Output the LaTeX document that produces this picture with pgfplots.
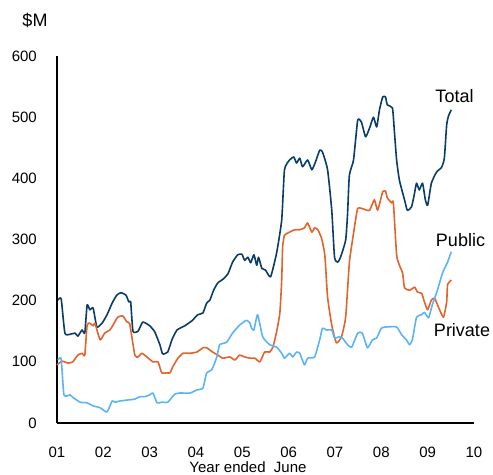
\documentclass[border=0pt]{standalone}
\usepackage{pgfplots}
\pgfplotsset{compat=1.18}
\usepackage{fontspec}
\setmainfont{Liberation Sans}

\definecolor{totalc}{RGB}{10,60,105}
\definecolor{privc}{RGB}{226,100,45}
\definecolor{pubc}{RGB}{90,180,245}

\begin{document}
\begin{tikzpicture}
\begin{axis}[
    at={(0,0)}, anchor=south west,
    scale only axis,
    width=417bp, height=367bp,
    xmin=1, xmax=10, ymin=0, ymax=600,
    axis x line*=bottom, axis y line*=left,
    axis line style={black, line width=2bp},
    xtick={1,...,10},
    xticklabels={01,02,03,04,05,06,07,08,09,10},
    ytick={0,100,...,600},
    major tick length=0pt,
    tick label style={font=\fontsize{15bp}{17bp}\selectfont, /pgf/number format/assume math mode=true},
    xticklabel style={anchor=north, inner sep=0pt, yshift=-24bp},
    yticklabel style={anchor=east, inner sep=0pt, xshift=-20bp},
    every axis plot/.append style={line width=1.6bp, line join=round, no markers, smooth, tension=0.3},
    clip=false,
]
% total
\addplot[color=totalc] coordinates {
(1.02,201) (1.09,203) (1.17,147) (1.28,145) (1.39,147) (1.45,142) (1.54,152) (1.60,147)
(1.65,193) (1.71,185) (1.78,188) (1.86,157) (1.97,163) (2.08,177) (2.19,196) (2.29,209)
(2.38,213) (2.49,209) (2.55,198) (2.59,198) (2.64,150) (2.75,150) (2.85,165) (3.00,159)
(3.11,149) (3.22,128) (3.28,113) (3.39,116) (3.48,136) (3.59,152) (3.76,159) (3.91,167)
(4.04,177) (4.15,180) (4.23,196) (4.30,201) (4.38,217) (4.47,229) (4.58,235) (4.69,244)
(4.79,263) (4.90,275) (4.99,276) (5.05,266) (5.12,271) (5.18,262) (5.25,275) (5.31,258)
(5.35,271) (5.42,253) (5.50,250) (5.61,239) (5.74,278) (5.85,332) (5.91,414) (6.02,430)
(6.11,435) (6.17,425) (6.24,433) (6.30,419) (6.41,430) (6.50,414) (6.58,427) (6.67,446)
(6.73,443) (6.84,414) (6.93,348) (6.99,271) (7.06,263) (7.12,271) (7.23,299) (7.27,340)
(7.31,405) (7.40,430) (7.49,495) (7.57,492) (7.66,468) (7.75,483) (7.83,500) (7.90,484)
(7.96,512) (8.03,533) (8.09,533) (8.13,520) (8.24,515) (8.28,479) (8.33,430) (8.39,397)
(8.50,365) (8.56,348) (8.65,353) (8.71,373) (8.76,392) (8.82,381) (8.89,392) (8.95,365)
(9.00,356) (9.08,392) (9.19,410) (9.30,418) (9.36,433) (9.41,487) (9.45,502) (9.51,512)
};
% orange
\addplot[color=privc] coordinates {
(1.00,95) (1.11,101) (1.24,98) (1.34,100) (1.45,111) (1.54,114) (1.60,111) (1.65,160)
(1.71,163) (1.78,159) (1.82,163) (1.93,136) (2.03,147) (2.14,152) (2.21,160) (2.31,173)
(2.42,175) (2.51,165) (2.57,162) (2.68,111) (2.75,108) (2.83,114) (2.94,108) (3.07,100)
(3.18,100) (3.26,82) (3.37,82) (3.44,82) (3.50,92) (3.61,106) (3.72,114) (3.87,114)
(4.02,116) (4.15,123) (4.23,123) (4.36,116) (4.47,111) (4.58,106) (4.73,108) (4.84,103)
(4.94,111) (5.05,108) (5.16,106) (5.27,106) (5.38,100) (5.48,116) (5.59,116) (5.66,124)
(5.74,149) (5.81,180) (5.85,234) (5.87,288) (5.91,307) (6.02,312) (6.13,316) (6.24,316)
(6.34,319) (6.41,327) (6.50,312) (6.56,319) (6.63,316) (6.71,302) (6.78,275) (6.84,206)
(6.93,160) (7.03,131) (7.14,141) (7.23,173) (7.31,262) (7.38,300) (7.44,330) (7.49,351)
(7.57,351) (7.68,348) (7.75,348) (7.85,365) (7.92,348) (8.03,378) (8.09,379) (8.13,368)
(8.22,360) (8.26,360) (8.33,275) (8.39,258) (8.46,245) (8.50,221) (8.61,217) (8.72,222)
(8.78,214) (8.87,212) (8.93,198) (9.00,185) (9.08,201) (9.15,204) (9.23,190) (9.34,173)
(9.41,198) (9.43,226) (9.51,234)
};
% light blue
\addplot[color=pubc] coordinates {
(1.02,103) (1.09,105) (1.15,46) (1.28,46) (1.34,42) (1.50,34) (1.65,33) (1.78,28)
(1.93,25) (2.08,18) (2.19,36) (2.25,34) (2.36,36) (2.57,38) (2.68,39) (2.79,43)
(2.90,43) (3.00,46) (3.07,49) (3.16,33) (3.26,34) (3.39,34) (3.54,47) (3.65,49)
(3.87,49) (4.02,54) (4.15,57) (4.23,82) (4.34,87) (4.45,108) (4.51,128) (4.66,132)
(4.79,147) (4.94,160) (5.01,164) (5.09,168) (5.16,164) (5.20,155) (5.25,152) (5.33,177)
(5.44,141) (5.59,128) (5.74,124) (5.85,114) (5.91,106) (6.02,114) (6.09,108) (6.17,116)
(6.24,114) (6.34,95) (6.41,106) (6.56,108) (6.67,136) (6.73,155) (6.82,152) (6.93,152)
(6.99,139) (7.10,141) (7.16,139) (7.27,128) (7.36,124) (7.49,147) (7.59,147) (7.70,123)
(7.81,136) (7.90,139) (8.00,155) (8.11,157) (8.33,157) (8.44,144) (8.54,136) (8.61,128)
(8.67,136) (8.76,173) (8.87,177) (8.93,181) (9.02,172) (9.10,193) (9.21,217) (9.32,245)
(9.43,263) (9.51,280)
};
\end{axis}
\path[use as bounding box] (-57bp,-52bp) rectangle (436bp,423bp);
\node[font=\fontsize{18bp}{20bp}\selectfont] at (-22bp,403bp) {\$M};
\node[font=\fontsize{18bp}{20bp}\selectfont] at (397.5bp,326.5bp) {Total};
\node[font=\fontsize{18bp}{20bp}\selectfont] at (403.5bp,183bp) {Public};
\node[font=\fontsize{18bp}{20bp}\selectfont] at (405bp,93bp) {Private};
\node[font=\fontsize{15bp}{17bp}\selectfont] at (191bp,-44.5bp) {Year ended~ June};
\end{tikzpicture}
\end{document}
